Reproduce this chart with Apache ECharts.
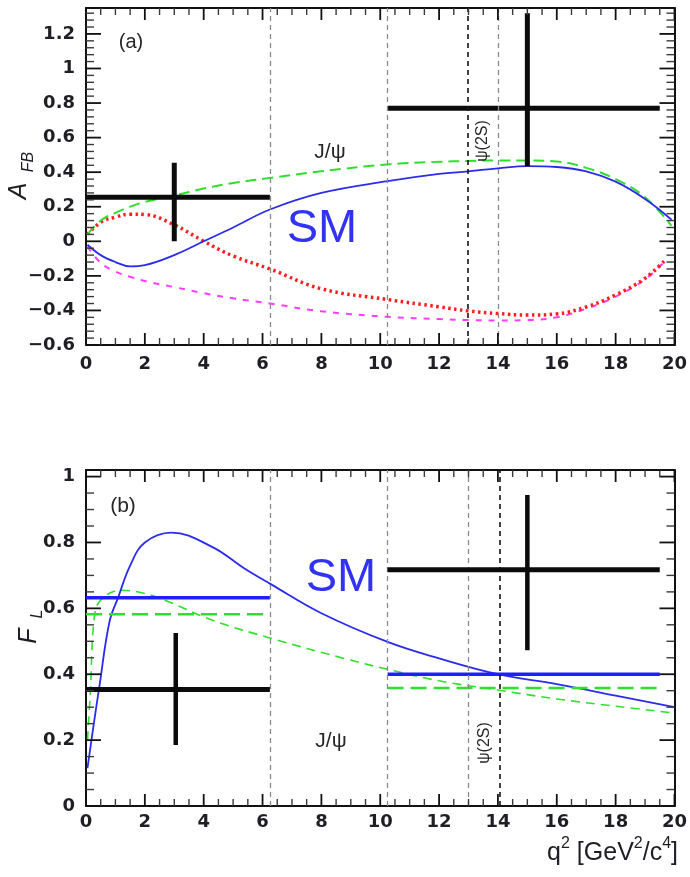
<!DOCTYPE html>
<html>
<head>
<meta charset="utf-8">
<script src="https://cdn.jsdelivr.net/npm/echarts@6/dist/echarts.min.js"></script>
<style>
  html, body { margin: 0; padding: 0; background: #fff; }
  #chart { width: 690px; height: 877px; }
</style>
</head>
<body>
<div id="chart"></div>
<script>
// ---- A_FB theory curves (q² in GeV²/c⁴) ----
const afbQ2      = [0.05, 0.5, 1, 1.5, 2, 3, 4, 5, 6.25, 8, 10.25, 12, 13, 14, 15, 16, 17, 18, 19, 19.9];
const afbSM      = [-0.02, -0.08, -0.12, -0.145, -0.138, -0.08, 0.0, 0.08, 0.184, 0.28, 0.348, 0.39, 0.405, 0.422, 0.435, 0.43, 0.405, 0.345, 0.245, 0.125];
const afbFlipC7  = [0.04, 0.12, 0.165, 0.2, 0.228, 0.265, 0.305, 0.337, 0.367, 0.405, 0.445, 0.46, 0.465, 0.468, 0.468, 0.462, 0.425, 0.36, 0.255, 0.09];
const afbQ2b     = [0.05, 0.5, 1, 1.5, 2, 3, 4, 5, 6.25, 8, 10.25, 12, 13, 14, 15, 16, 17, 18, 19, 19.7];
const afbFlipC9C10 = [0.04, 0.11, 0.14, 0.157, 0.155, 0.095, 0.0, -0.085, -0.16, -0.275, -0.337, -0.379, -0.403, -0.418, -0.427, -0.42, -0.38, -0.31, -0.214, -0.106];
const afbFlipAll = [-0.03, -0.125, -0.175, -0.205, -0.23, -0.265, -0.3, -0.33, -0.36, -0.405, -0.437, -0.45, -0.456, -0.458, -0.456, -0.44, -0.39, -0.32, -0.22, -0.11];

// ---- A_FB measurement: bins, central values and error limits ----
const afbBinLo   = [0, 10.25];
const afbBinHi   = [6.25, 19.5];
const afbBinMid  = [3.0, 15.0];
const afbValue   = [0.255, 0.77];
const afbErrLo   = [0.0, 0.435];
const afbErrHi   = [0.455, 1.32];

// ---- F_L theory curves ----
const flQ2SM     = [0.05, 0.25, 0.45, 0.8, 1.1, 1.5, 2.0, 2.9, 4.3, 5.4, 6.25, 8, 10.25, 12, 14, 16, 18, 20];
const flSM       = [0.115, 0.24, 0.36, 0.56, 0.635, 0.73, 0.80, 0.83, 0.786, 0.72, 0.675, 0.585, 0.498, 0.448, 0.40, 0.37, 0.335, 0.30];
const flQ2C7     = [0.05, 0.15, 0.28, 0.5, 1.2, 2.0, 2.7, 4.3, 6.25, 8.77, 10.25, 12, 14, 16, 18, 20];
const flFlipC7   = [0.2, 0.35, 0.57, 0.625, 0.655, 0.645, 0.624, 0.564, 0.51, 0.448, 0.415, 0.38, 0.352, 0.325, 0.303, 0.282];

// ---- F_L bin-averaged predictions ----
const flBinLo    = [0, 10.25];
const flBinHi    = [6.25, 19.5];
const flSMBin    = [0.632, 0.40];
const flC7Bin    = [0.582, 0.358];

// ---- F_L measurement ----
const flBinMid   = [3.05, 15.0];
const flValue    = [0.354, 0.717];
const flErrLo    = [0.185, 0.473];
const flErrHi    = [0.525, 0.944];

// ---- charmonium veto boundaries ----
const vetoA      = [6.25, 10.25, 12.96, 14.0];
const vetoADark  = [false, false, true, false];
const vetoB      = [6.25, 10.25, 13.0, 14.05];
const vetoBDark  = [false, false, false, true];

// ---- axis ranges and tick spacing ----
const q2Range  = [0, 20];
const afbRange = [-0.6, 1.35];
const flRange  = [0, 1.02];
const q2Step = 2,    q2Minor = 0.5;
const afbStep = 0.2, afbMinor = 0.04;
const flStep = 0.2,  flMinor = 0.05;

const zip = (xs, ys) => xs.map((x, i) => [x, ys[i]]);

const tickFmt = v => {
  if (Math.abs(v / 0.2 - Math.round(v / 0.2)) > 1e-6) return '';
  const r = Math.round(v * 10) / 10;
  return String(r).replace('-', '\u2212');
};

const LBL = { fontFamily: 'DejaVu Sans', fontWeight: 'bold', fontSize: 18, color: '#1e1e24' };
const FRAME = { show: true, onZero: false, lineStyle: { color: '#111', width: 2 } };

function xPair(grid) {
  const base = {
    type: 'value', gridIndex: grid, min: q2Range[0], max: q2Range[1], interval: q2Step,
    axisLine: FRAME, splitLine: { show: false }, axisTick: { show: false }, minorTick: { show: false }
  };
  return [
    Object.assign({}, base, { position: 'bottom',
      axisLabel: Object.assign({ show: true, margin: grid === 0 ? 10 : 7, formatter: v => String(v) }, LBL) }),
    Object.assign({}, base, { position: 'top', axisLabel: { show: false } })
  ];
}

function yPair(grid, range, step) {
  const base = {
    type: 'value', gridIndex: grid, min: range[0], max: range[1], interval: step,
    axisLine: FRAME, splitLine: { show: false }, axisTick: { show: false }, minorTick: { show: false }
  };
  return [
    Object.assign({}, base, { position: 'left',
      axisLabel: Object.assign({ show: true, margin: 11, formatter: tickFmt }, LBL) }),
    Object.assign({}, base, { position: 'right', axisLabel: { show: false } })
  ];
}

function curve(name, data, xi, yi, color, width, type) {
  return {
    name, type: 'line', xAxisIndex: xi, yAxisIndex: yi, data,
    showSymbol: false, smooth: 0.4, silent: true,
    lineStyle: { color, width, type, cap: 'butt' }, z: 3
  };
}

function seg(data, xi, yi, color, width, type, z) {
  return {
    type: 'line', xAxisIndex: xi, yAxisIndex: yi, data, showSymbol: false, silent: true,
    lineStyle: { color, width, type: type || 'solid', cap: 'butt' }, z: z || 4
  };
}

function vetoLines(xs, dark) {
  return {
    symbol: ['none', 'none'], silent: true, animation: false,
    label: { show: false },
    data: xs.map((x, i) => ({
      xAxis: x,
      lineStyle: dark[i] ? { color: '#151515', width: 1.6, type: [5, 4] }
                         : { color: '#8a8a8a', width: 1.3, type: [5, 4] }
    }))
  };
}

const series = [];

// panel (a)
series.push(Object.assign(seg([], 0, 0, '#000', 1), { markLine: vetoLines(vetoA, vetoADark) }));
series.push(curve('flip all', zip(afbQ2b, afbFlipAll), 0, 0, '#ff3cff', 2, [6, 7]));
series.push(curve('flip C9C10', zip(afbQ2b, afbFlipC9C10), 0, 0, '#ff1c1c', 3.5, [2.5, 3.5]));
series.push(curve('flip C7', zip(afbQ2, afbFlipC7), 0, 0, '#2ee02e', 2, [11, 6]));
series.push(curve('SM', zip(afbQ2, afbSM), 0, 0, '#2b2bee', 1.8, 'solid'));
afbValue.forEach((v, i) => {
  series.push(seg([[afbBinLo[i], v], [afbBinHi[i], v]], 0, 0, '#0b0b0b', 5));
  series.push(seg([[afbBinMid[i], afbErrLo[i]], [afbBinMid[i], afbErrHi[i]]], 0, 0, '#0b0b0b', 5));
});

// panel (b)
series.push(Object.assign(seg([], 2, 2, '#000', 1), { markLine: vetoLines(vetoB, vetoBDark) }));
series.push(curve('flip C7', zip(flQ2C7, flFlipC7), 2, 2, '#2ee02e', 1.6, [9, 6]));
series.push(curve('SM', zip(flQ2SM, flSM), 2, 2, '#2b2bee', 1.8, 'solid'));
flSMBin.forEach((v, i) => {
  series.push(seg([[flBinLo[i], v], [flBinHi[i], v]], 2, 2, '#1e1eff', 3.5));
  series.push(seg([[flBinLo[i], flC7Bin[i]], [flBinHi[i], flC7Bin[i]]], 2, 2, '#2ee02e', 2.6, [16, 7]));
});
flValue.forEach((v, i) => {
  series.push(seg([[flBinLo[i], v], [flBinHi[i], v]], 2, 2, '#0b0b0b', 5, 'solid', 5));
  series.push(seg([[flBinMid[i], flErrLo[i]], [flBinMid[i], flErrHi[i]]], 2, 2, '#0b0b0b', 4.5, 'solid', 5));
});

const txt = (x, y, text, size, extra) => ({
  type: 'text', x, y, silent: true, z: 10,
  style: Object.assign({ text, fontFamily: 'Liberation Sans', fontSize: size, fill: '#262626',
    align: 'center', verticalAlign: 'middle' }, extra || {})
});
const rot = (x, y, text, size, extra) => Object.assign(txt(x, y, text, size, extra), { rotation: Math.PI / 2 });

const labels = [
  txt(131, 42, '(a)', 20),
  txt(123, 506, '(b)', 21),
  txt(330, 152, 'J/\u03c8', 21),
  txt(331, 741, 'J/\u03c8', 21),
  txt(322, 229, 'SM', 47, { fill: '#3232f4' }),
  txt(341, 578, 'SM', 47, { fill: '#3232f4' }),
  rot(483, 141, '\u03c8(2S)', 16),
  rot(485, 743, '\u03c8(2S)', 16),
  rot(19, 191, 'A', 25, { fontStyle: 'italic', fill: '#1e1e24' }),
  rot(29, 162, 'FB', 16, { fontStyle: 'italic', fill: '#1e1e24' }),
  rot(29, 636, 'F', 25, { fontStyle: 'italic', fill: '#1e1e24' }),
  rot(38, 614, 'L', 16, { fontStyle: 'italic', fill: '#1e1e24' }),
  {
    type: 'text', x: 678, y: 866, silent: true, z: 10,
    style: {
      text: '{n|q}{s|2}{n| [GeV}{s|2}{n|/c}{s|4}{n|]}',
      align: 'right', verticalAlign: 'bottom',
      rich: {
        n: { fontFamily: 'Liberation Sans', fontSize: 25, fill: '#1e1e24', lineHeight: 30, verticalAlign: 'bottom' },
        s: { fontFamily: 'Liberation Sans', fontSize: 16, fill: '#1e1e24', lineHeight: 30, verticalAlign: 'top' }
      }
    }
  }
];

const option = {
  backgroundColor: '#ffffff',
  animation: false,
  grid: [
    { left: 86, right: 14, top: 8, height: 337 },
    { left: 86, right: 14, top: 470, height: 336 }
  ],
  xAxis: [...xPair(0), ...xPair(1)],
  yAxis: [...yPair(0, afbRange, afbStep), ...yPair(1, flRange, flStep)],
  series,
  graphic: labels
};

const chart = echarts.init(document.getElementById('chart'));
chart.setOption(option);

// Inward frame ticks on all four sides, placed through the axes' own scales.
function frameTicks(axisIdx, xr, yr, xStep, yStep, xLen, yLen, skipX, skipY, color, width) {
  const toPx = p => chart.convertToPixel({ xAxisIndex: axisIdx, yAxisIndex: axisIdx }, p);
  const near = (v, s) => s > 0 && Math.abs(v / s - Math.round(v / s)) < 1e-6;
  const line = (x1, y1, x2, y2) => ({
    type: 'line', silent: true, z: 20,
    shape: { x1, y1, x2, y2 },
    style: { stroke: color, lineWidth: width }
  });
  const out = [];
  const nx = Math.round((xr[1] - xr[0]) / xStep);
  for (let i = 0; i <= nx; i++) {
    const v = xr[0] + i * xStep;
    if (near(v, skipX)) continue;
    const b = toPx([v, yr[0]]), t = toPx([v, yr[1]]);
    out.push(line(b[0], b[1], b[0], b[1] - xLen), line(t[0], t[1], t[0], t[1] + xLen));
  }
  const ny = Math.floor((yr[1] - yr[0]) / yStep + 1e-6);
  for (let i = 0; i <= ny; i++) {
    const v = yr[0] + i * yStep;
    if (near(v, skipY)) continue;
    const l = toPx([xr[0], v]), r = toPx([xr[1], v]);
    out.push(line(l[0], l[1], l[0] + yLen, l[1]), line(r[0], r[1], r[0] - yLen, r[1]));
  }
  return out;
}

const ticks = [].concat(
  frameTicks(0, q2Range, afbRange, q2Step, afbStep, 12, 15, 0, 0, '#111', 1.8),
  frameTicks(0, q2Range, afbRange, q2Minor, afbMinor, 7, 8, q2Step, afbStep, '#3a3a3a', 1.4),
  frameTicks(2, q2Range, flRange, q2Step, flStep, 12, 15, 0, 0, '#111', 1.8),
  frameTicks(2, q2Range, flRange, q2Minor, flMinor, 7, 8, q2Step, flStep, '#3a3a3a', 1.4)
);

chart.setOption({ graphic: labels.concat(ticks) });
</script>
</body>
</html>
